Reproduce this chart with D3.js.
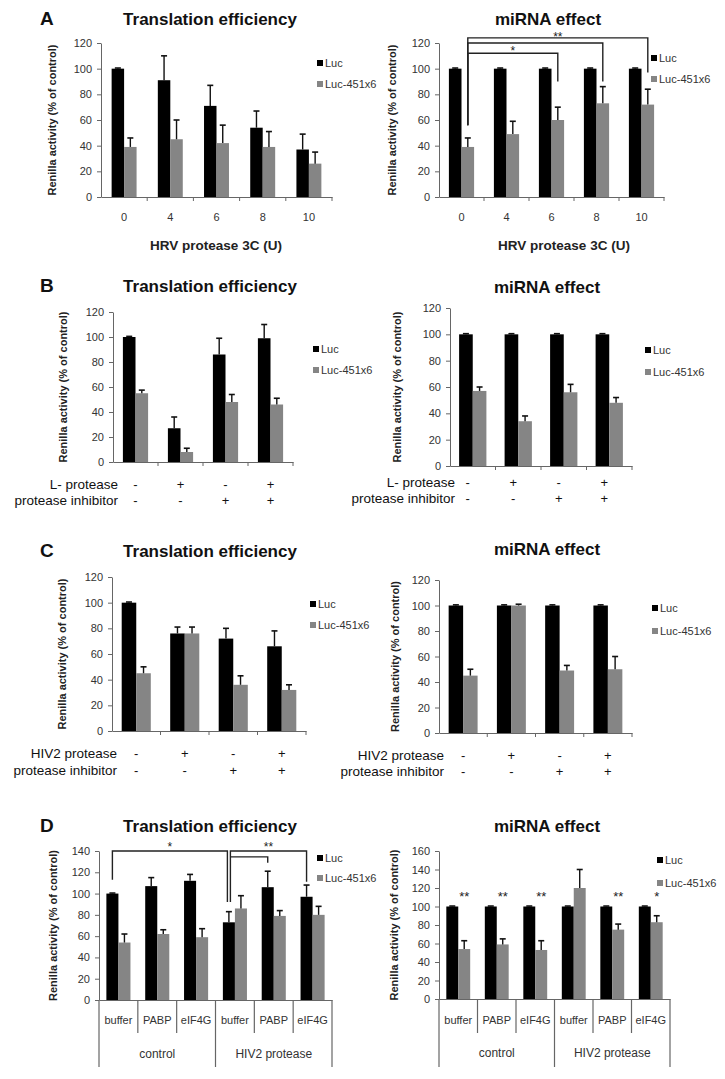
<!DOCTYPE html>
<html>
<head>
<meta charset="utf-8">
<script src="https://cdn.jsdelivr.net/npm/d3@7"></script>
<style>
  html, body { margin: 0; padding: 0; background: #fff; }
  svg { display: block; font-family: "Liberation Sans", Arial, sans-serif; }
</style>
</head>
<body>
<svg id="chart" width="725" height="1079"></svg>
<script>
// ---------------- DATA ----------------
const seriesNames = ["Luc", "Luc-451x6"];
const yTicks120 = [0, 20, 40, 60, 80, 100, 120];
const yTicks140 = [0, 20, 40, 60, 80, 100, 120, 140];
const yTicks160 = [0, 20, 40, 60, 80, 100, 120, 140, 160];

// Panel A : HRV protease 3C (U)
const hrvUnits = ["0", "4", "6", "8", "10"];
const aTeLuc = [100, 91, 71, 54, 37];
const aTeLucErr = [0.5, 19, 16, 13, 12];
const aTe451 = [39, 45, 42, 39, 26];
const aTe451Err = [7, 15, 14, 12, 9];
const aMiLuc = [100, 100, 100, 100, 100];
const aMiLucErr = [0.5, 0.5, 0.5, 0.5, 0.5];
const aMi451 = [39, 49, 60, 73, 72];
const aMi451Err = [7, 10, 10, 13, 12];
const aMiSigLabels = ["**", "", "*"];

// Panel B : L- protease / protease inhibitor
const bConds = ["c1", "c2", "c3", "c4"];
const bLProtease = ["-", "+", "-", "+"];
const bInhibitor = ["-", "-", "+", "+"];
const bTeLuc = [100, 27, 86, 99];
const bTeLucErr = [0.5, 9, 13, 11];
const bTe451 = [55, 8, 48, 46];
const bTe451Err = [2.5, 3, 6, 5];
const bMiLuc = [100, 100, 100, 100];
const bMiLucErr = [0.5, 0.5, 0.5, 0.5];
const bMi451 = [57, 34, 56, 48];
const bMi451Err = [3, 4, 6, 4];

// Panel C : HIV2 protease / protease inhibitor
const cConds = ["c1", "c2", "c3", "c4"];
const cHiv2 = ["-", "+", "-", "+"];
const cInhibitor = ["-", "-", "+", "+"];
const cTeLuc = [100, 76, 72, 66];
const cTeLucErr = [0.5, 5, 8, 12];
const cTe451 = [45, 76, 36, 32];
const cTe451Err = [5, 5, 7, 4];
const cMiLuc = [100, 100, 100, 100];
const cMiLucErr = [0.5, 0.5, 0.5, 0.5];
const cMi451 = [45, 100, 49, 50];
const cMi451Err = [5, 1, 4, 10];

// Panel D : buffer / PABP / eIF4G under control / HIV2 protease
const dCats = ["control-buffer", "control-PABP", "control-eIF4G", "hiv-buffer", "hiv-PABP", "hiv-eIF4G"];
const dTreatments = ["buffer", "PABP", "eIF4G", "buffer", "PABP", "eIF4G"];
const dGroups = ["control", "HIV2 protease"];
const dTeLuc = [100, 107, 112, 73, 106, 97];
const dTeLucErr = [0.5, 8, 6, 10, 15, 11];
const dTe451 = [54, 62, 59, 86, 79, 80];
const dTe451Err = [8, 4, 8, 12, 5, 8];
const dMiLuc = [100, 100, 100, 100, 100, 100];
const dMiLucErr = [0.5, 0.5, 0.5, 0.5, 0.5, 0.5];
const dMi451 = [54, 59, 53, 120, 75, 83];
const dMi451Err = [9, 6, 10, 20, 6, 7];
const dMiStars = ["**", "**", "**", "", "**", "*"];
const dTeSigLabels = ["*", "**", ""];

// ---------------- STYLE / LAYOUT ----------------
const colors = { "Luc": "#000000", "Luc-451x6": "#858585" };
const axisColor = "#666";
const textColor = "#333";
const svg = d3.select("#chart");

function drawPanel(cfg) {
  const g = svg.append("g");
  const x = d3.scaleBand().domain(cfg.cats).range([cfg.x0, cfg.x1]).padding(0);
  const inner = (1 - cfg.barFrac) / 2;
  const xs = d3.scaleBand().domain(seriesNames)
    .range([x.bandwidth() * inner, x.bandwidth() * (1 - inner)]).padding(0);
  const y = d3.scaleLinear().domain([0, cfg.yMax]).range([cfg.yBot, cfg.yTop]);

  // y axis
  const ya = g.append("g").attr("transform", `translate(${cfg.x0},0)`)
    .call(d3.axisLeft(y).tickValues(cfg.ticks).tickSize(4).tickSizeOuter(0).tickPadding(5));
  ya.select(".domain").attr("stroke", axisColor);
  ya.selectAll(".tick line").attr("stroke", axisColor);
  ya.selectAll(".tick text").attr("fill", textColor).attr("font-size", 11)
    .attr("font-family", "Liberation Sans, Arial, sans-serif");

  // x axis
  const xa = g.append("g").attr("transform", `translate(0,${cfg.yBot})`)
    .call(d3.axisBottom(x).tickSize(0).tickSizeOuter(0).tickFormat(""));
  xa.select(".domain").attr("stroke", axisColor);
  xa.selectAll(".tick").remove();

  const bounds = d3.range(cfg.cats.length + 1).map(i => cfg.x0 + i * x.step());
  if (!cfg.table) {
    g.selectAll(".btick").data(bounds.slice(1)).join("line")
      .attr("x1", d => d).attr("x2", d => d)
      .attr("y1", cfg.yBot).attr("y2", cfg.yBot + 4)
      .attr("stroke", axisColor);
  }

  // bars
  const series = [
    { name: "Luc", vals: cfg.luc, errs: cfg.lucErr },
    { name: "Luc-451x6", vals: cfg.mir, errs: cfg.mirErr }
  ];
  series.forEach(s => {
    const rows = cfg.cats.map((c, i) => ({ c, v: s.vals[i], e: s.errs[i] }));
    g.selectAll(null).data(rows).join("rect")
      .attr("x", d => x(d.c) + xs(s.name))
      .attr("y", d => y(d.v))
      .attr("width", xs.bandwidth())
      .attr("height", d => cfg.yBot - y(d.v))
      .attr("fill", colors[s.name]);
    // error bars (upper only)
    const cx = d => x(d.c) + xs(s.name) + xs.bandwidth() / 2;
    g.selectAll(null).data(rows).join("line")
      .attr("x1", cx).attr("x2", cx)
      .attr("y1", d => y(d.v)).attr("y2", d => y(d.v + d.e))
      .attr("stroke", "#111").attr("stroke-width", 1.4);
    g.selectAll(null).data(rows).join("line")
      .attr("x1", d => cx(d) - 3).attr("x2", d => cx(d) + 3)
      .attr("y1", d => y(d.v + d.e)).attr("y2", d => y(d.v + d.e))
      .attr("stroke", "#111").attr("stroke-width", 1.6);
  });

  // category labels (A)
  if (cfg.catLabelY) {
    g.selectAll(null).data(cfg.cats).join("text")
      .attr("x", d => x(d) + x.bandwidth() / 2).attr("y", cfg.catLabelY)
      .attr("text-anchor", "middle").attr("font-size", 11).attr("fill", textColor)
      .text(d => d);
  }

  // sign rows (B, C)
  if (cfg.rows) {
    cfg.rows.forEach(r => {
      g.append("text").attr("x", cfg.rowLabelX).attr("y", r.y)
        .attr("text-anchor", "end").attr("font-size", 13.5).attr("fill", "#111")
        .text(r.label);
      g.selectAll(null).data(r.signs).join("text")
        .attr("x", (d, i) => x(cfg.cats[i]) + x.bandwidth() / 2 + (cfg.signDx || 0))
        .attr("y", r.y)
        .attr("text-anchor", "middle").attr("font-size", 13).attr("fill", "#111")
        .text(d => d);
    });
  }

  // table below axis (D)
  if (cfg.table) {
    g.selectAll(null).data(bounds).join("line")
      .attr("x1", d => d).attr("x2", d => d)
      .attr("y1", cfg.yBot)
      .attr("y2", (d, i) => (i % 3 === 0) ? cfg.table.groupBottom : cfg.table.subBottom)
      .attr("stroke", axisColor).attr("stroke-width", 1.2);
    g.selectAll(null).data(cfg.table.sub).join("text")
      .attr("x", (d, i) => x(cfg.cats[i]) + x.bandwidth() / 2)
      .attr("y", cfg.table.subY)
      .attr("text-anchor", "middle").attr("font-size", 11).attr("fill", textColor)
      .text(d => d);
    g.selectAll(null).data(cfg.table.groups).join("text")
      .attr("x", (d, i) => (bounds[i * 3] + bounds[i * 3 + 3]) / 2)
      .attr("y", cfg.table.groupY)
      .attr("text-anchor", "middle").attr("font-size", 12).attr("fill", textColor)
      .text(d => d);
  }

  // significance brackets
  if (cfg.brackets) {
    cfg.brackets.forEach(b => {
      const xc = i => x(cfg.cats[i]) + xs(b.series) + xs.bandwidth() / 2;
      const xl = xc(b.from) + (b.dxL || 0), xr = xc(b.to) + (b.dxR || 0);
      let p = "";
      if (b.leftEnd != null) p += `M${xl},${y(b.leftEnd)}V${y(b.level)}`;
      else p += `M${xl},${y(b.level)}`;
      p += `H${xr}V${y(b.rightEnd)}`;
      g.append("path").attr("d", p).attr("fill", "none")
        .attr("stroke", "#222").attr("stroke-width", 1.4);
      if (b.label) {
        g.append("text").attr("x", (xl + xr) / 2)
          .attr("y", y(b.labelLevel) + 6.5)
          .attr("text-anchor", "middle").attr("font-size", 12).attr("fill", "#222")
          .text(b.label);
      }
    });
  }
  if (cfg.stars) {
    g.selectAll(null).data(cfg.stars).join("text")
      .attr("x", (d, i) => x(cfg.cats[i]) + xs("Luc-451x6") + xs.bandwidth() / 2)
      .attr("y", y(cfg.starLevel) + 7)
      .attr("text-anchor", "middle").attr("font-size", 13).attr("fill", "#222")
      .text(d => d);
  }

  // titles
  g.append("text").attr("x", cfg.titleX).attr("y", cfg.titleY)
    .attr("text-anchor", "middle").attr("font-size", 17).attr("font-weight", "bold")
    .attr("fill", "#111").text(cfg.title);
  if (cfg.letter) {
    g.append("text").attr("x", 40).attr("y", cfg.titleY)
      .attr("font-size", 19).attr("font-weight", "bold").attr("fill", "#111")
      .text(cfg.letter);
  }
  // y axis label
  g.append("text")
    .attr("transform", `translate(${cfg.ylabX + 4},${(cfg.yTop + cfg.yBot) / 2}) rotate(-90)`)
    .attr("text-anchor", "middle").attr("font-size", 11).attr("font-weight", "bold")
    .attr("fill", "#222").text("Renilla activity (% of control)");
  if (cfg.xTitle) {
    g.append("text").attr("x", cfg.xTitle.x).attr("y", cfg.xTitle.y)
      .attr("text-anchor", "middle").attr("font-size", 13.5).attr("font-weight", "bold")
      .attr("fill", "#222").text(cfg.xTitle.text);
  }

  // legend
  seriesNames.forEach((s, i) => {
    g.append("rect").attr("x", cfg.legendX).attr("y", cfg.legendY[i] - 3)
      .attr("width", 6).attr("height", 6).attr("fill", colors[s]);
    g.append("text").attr("x", cfg.legendX + 8).attr("y", cfg.legendY[i] + 4)
      .attr("font-size", 11).attr("fill", textColor).text(s);
  });
}

const panels = [
  { cats: hrvUnits, luc: aTeLuc, lucErr: aTeLucErr, mir: aTe451, mirErr: aTe451Err,
    x0: 101, x1: 332, yTop: 43, yBot: 197, yMax: 120, ticks: yTicks120, barFrac: 0.54,
    title: "Translation efficiency", titleX: 210, titleY: 25, letter: "A",
    ylabX: 52, legendX: 317, legendY: [63, 84], catLabelY: 221,
    xTitle: { x: 216, y: 250, text: "HRV protease 3C (U)" } },
  { cats: hrvUnits, luc: aMiLuc, lucErr: aMiLucErr, mir: aMi451, mirErr: aMi451Err,
    x0: 439, x1: 664, yTop: 43, yBot: 197, yMax: 120, ticks: yTicks120, barFrac: 0.56,
    title: "miRNA effect", titleX: 548, titleY: 25,
    ylabX: 392, legendX: 651, legendY: [58, 79], catLabelY: 221,
    xTitle: { x: 564, y: 250, text: "HRV protease 3C (U)" },
    brackets: [
      { series: "Luc-451x6", from: 0, to: 4, level: 124, leftEnd: 56, rightEnd: 97, label: aMiSigLabels[0], labelLevel: 126.5 },
      { series: "Luc-451x6", from: 0, to: 3, level: 120, leftEnd: 56, rightEnd: 90, label: aMiSigLabels[1] },
      { series: "Luc-451x6", from: 0, to: 2, level: 112, leftEnd: 56, rightEnd: 90, label: aMiSigLabels[2], labelLevel: 115.5 }
    ] },
  { cats: bConds, luc: bTeLuc, lucErr: bTeLucErr, mir: bTe451, mirErr: bTe451Err,
    x0: 113, x1: 293, yTop: 312, yBot: 462, yMax: 120, ticks: yTicks120, barFrac: 0.56,
    title: "Translation efficiency", titleX: 210, titleY: 292, letter: "B",
    ylabX: 63, legendX: 313, legendY: [349, 370],
    rowLabelX: 118, rows: [{ label: "L- protease", y: 489, signs: bLProtease },
                           { label: "protease inhibitor", y: 505, signs: bInhibitor }] },
  { cats: bConds, luc: bMiLuc, lucErr: bMiLucErr, mir: bMi451, mirErr: bMi451Err,
    x0: 450, x1: 632, yTop: 308, yBot: 466, yMax: 120, ticks: yTicks120, barFrac: 0.6,
    title: "miRNA effect", titleX: 547, titleY: 293,
    ylabX: 397, legendX: 645, legendY: [350, 372],
    rowLabelX: 455, signDx: -5,
    rows: [{ label: "L- protease", y: 487, signs: bLProtease },
           { label: "protease inhibitor", y: 503, signs: bInhibitor }] },
  { cats: cConds, luc: cTeLuc, lucErr: cTeLucErr, mir: cTe451, mirErr: cTe451Err,
    x0: 112, x1: 306, yTop: 577, yBot: 731, yMax: 120, ticks: yTicks120, barFrac: 0.6,
    title: "Translation efficiency", titleX: 210, titleY: 557, letter: "C",
    ylabX: 62, legendX: 310, legendY: [604, 625],
    rowLabelX: 117, rows: [{ label: "HIV2 protease", y: 758, signs: cHiv2 },
                           { label: "protease inhibitor", y: 775, signs: cInhibitor }] },
  { cats: cConds, luc: cMiLuc, lucErr: cMiLucErr, mir: cMi451, mirErr: cMi451Err,
    x0: 439, x1: 632, yTop: 580, yBot: 733, yMax: 120, ticks: yTicks120, barFrac: 0.6,
    title: "miRNA effect", titleX: 547, titleY: 555,
    ylabX: 395, legendX: 652, legendY: [608, 631],
    rowLabelX: 444, rows: [{ label: "HIV2 protease", y: 760, signs: cHiv2 },
                           { label: "protease inhibitor", y: 776, signs: cInhibitor }] },
  { cats: dCats, luc: dTeLuc, lucErr: dTeLucErr, mir: dTe451, mirErr: dTe451Err,
    x0: 99, x1: 332, yTop: 851, yBot: 1000, yMax: 140, ticks: yTicks140, barFrac: 0.62,
    title: "Translation efficiency", titleX: 210, titleY: 832, letter: "D",
    ylabX: 53, legendX: 317, legendY: [858, 878],
    table: { sub: dTreatments, groups: dGroups, subBottom: 1033, groupBottom: 1067, subY: 1024, groupY: 1058 },
    brackets: [
      { series: "Luc", from: 0, to: 3, level: 140, leftEnd: 113, rightEnd: 92, dxR: -1.5, label: dTeSigLabels[0], labelLevel: 146 },
      { series: "Luc", from: 3, to: 5, level: 140, leftEnd: 92, rightEnd: 111, dxL: 1.5, label: dTeSigLabels[1], labelLevel: 146 },
      { series: "Luc", from: 3, to: 4, level: 134.5, leftEnd: null, rightEnd: 129, dxL: 1.5, label: dTeSigLabels[2] }
    ] },
  { cats: dCats, luc: dMiLuc, lucErr: dMiLucErr, mir: dMi451, mirErr: dMi451Err,
    x0: 439, x1: 670, yTop: 851, yBot: 999, yMax: 160, ticks: yTicks160, barFrac: 0.62,
    title: "miRNA effect", titleX: 547, titleY: 832,
    ylabX: 394, legendX: 657, legendY: [860, 883],
    table: { sub: dTreatments, groups: dGroups, subBottom: 1033, groupBottom: 1067, subY: 1024, groupY: 1057 },
    stars: dMiStars, starLevel: 113 }
];

panels.forEach(drawPanel);
</script>
</body>
</html>
